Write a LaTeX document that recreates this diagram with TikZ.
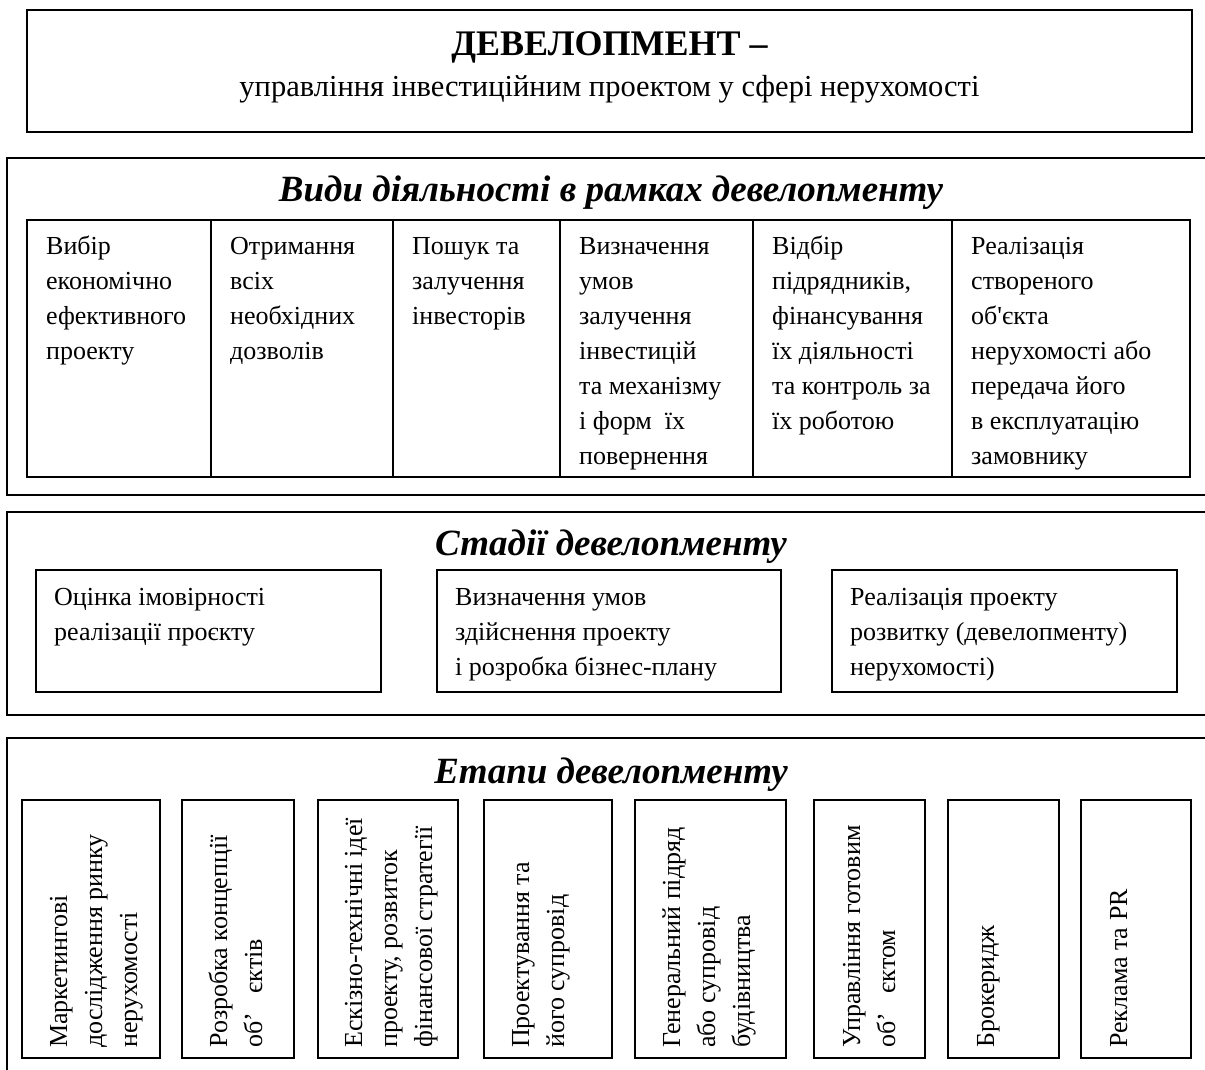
\documentclass[tikz,border=0pt]{standalone}
\usepackage{fontspec}
\setmainfont{Liberation Serif}
\newcommand\mystrut{\rule{0pt}{22pt}}
\begin{document}
\begin{tikzpicture}[x=1pt,y=-1pt,
  frame/.style={draw=black, line width=1.7pt, inner sep=0pt, outer sep=0pt, anchor=north west},
  body/.style={font=\fontsize{26}{35}\selectfont, align=left, inner sep=0pt, anchor=north west},
  vbody/.style={font=\fontsize{26}{35}\selectfont, align=left, inner sep=0pt, anchor=north west, rotate=90},
  sectitle/.style={font=\fontsize{37}{42}\selectfont\bfseries\itshape, inner sep=0pt, anchor=base},
]
\useasboundingbox (0,0) rectangle (1205,1070);
\clip (0,0) rectangle (1205,1070);

% top box
\node[frame, minimum width=1165pt, minimum height=122pt] (top) at (27,10) {};
\node[font=\fontsize{36}{40}\selectfont\bfseries, inner sep=0pt, anchor=base] (t1) at (609.5,56) {ДЕВЕЛОПМЕНТ –};
\node[font=\fontsize{30.5}{34}\selectfont, inner sep=0pt, anchor=base] (t2) at (609.5,97) {управління інвестиційним проектом у сфері нерухомості};

% section 2
\node[frame, minimum width=1300pt, minimum height=337pt] (s2) at (7,158) {};
\node[sectitle] (s2t) at (611,201) {Види діяльності в рамках девелопменту};
\node[frame, minimum width=184pt, minimum height=257pt] (c1) at (27,220) {};
\node[frame, minimum width=182pt, minimum height=257pt] (c2) at (211,220) {};
\node[frame, minimum width=167pt, minimum height=257pt] (c3) at (393,220) {};
\node[frame, minimum width=193pt, minimum height=257pt] (c4) at (560,220) {};
\node[frame, minimum width=199pt, minimum height=257pt] (c5) at (753,220) {};
\node[frame, minimum width=238pt, minimum height=257pt] (c6) at (952,220) {};
\node[body] (c1t) at (46,232) {\mystrut Вибір\\економічно\\ефективного\\проекту};
\node[body] (c2t) at (230,232) {\mystrut Отримання\\всіх\\необхідних\\дозволів};
\node[body] (c3t) at (412,232) {\mystrut Пошук та\\залучення\\інвесторів};
\node[body] (c4t) at (579,232) {\mystrut Визначення\\умов\\залучення\\інвестицій\\та механізму\\і форм~~їх\\повернення};
\node[body] (c5t) at (772,232) {\mystrut Відбір\\підрядників,\\фінансування\\їх діяльності\\та контроль за\\їх роботою};
\node[body] (c6t) at (971,232) {\mystrut Реалізація\\створеного\\об\textquotesingle єкта\\нерухомості або\\передача його\\в експлуатацію\\замовнику};

% section 3
\node[frame, minimum width=1300pt, minimum height=203pt] (s3) at (7,512) {};
\node[sectitle] (s3t) at (611,555) {Стадії девелопменту};
\node[frame, minimum width=345pt, minimum height=122pt] (b1) at (36,570) {};
\node[frame, minimum width=344pt, minimum height=122pt] (b2) at (437,570) {};
\node[frame, minimum width=345pt, minimum height=122pt] (b3) at (832,570) {};
\node[body] (b1t) at (54,583) {\mystrut Оцінка імовірності\\реалізації проєкту};
\node[body] (b2t) at (455,583) {\mystrut Визначення умов\\здійснення проекту\\і розробка бізнес-плану};
\node[body] (b3t) at (850,583) {\mystrut Реалізація проекту\\розвитку (девелопменту)\\нерухомості)};

% section 4
\node[frame, minimum width=1300pt, minimum height=400pt] (s4) at (7,738) {};
\node[sectitle] (s4t) at (611,783) {Етапи девелопменту};
\node[frame, minimum width=138pt, minimum height=258pt] (v1) at (22,800) {};
\node[frame, minimum width=112pt, minimum height=258pt] (v2) at (182,800) {};
\node[frame, minimum width=140pt, minimum height=258pt] (v3) at (318,800) {};
\node[frame, minimum width=128pt, minimum height=258pt] (v4) at (484,800) {};
\node[frame, minimum width=151pt, minimum height=258pt] (v5) at (635,800) {};
\node[frame, minimum width=111pt, minimum height=258pt] (v6) at (814,800) {};
\node[frame, minimum width=111pt, minimum height=258pt] (v7) at (948,800) {};
\node[frame, minimum width=110pt, minimum height=258pt] (v8) at (1081,800) {};
\node[vbody] (v1t) at (45,1048) {\mystrut Маркетингові\\дослідження ринку\\нерухомості};
\node[vbody] (v2t) at (205,1048) {\mystrut Розробка концепції\\об’~~~єктів};
\node[vbody] (v3t) at (340,1048) {\mystrut Ескізно-технічні ідеї\\проекту, розвиток\\фінансової стратегії};
\node[vbody] (v4t) at (507,1048) {\mystrut Проектування та\\його супровід};
\node[vbody] (v5t) at (658,1048) {\mystrut Генеральний підряд\\або супровід\\будівництва};
\node[vbody] (v6t) at (838,1048) {\mystrut Управління готовим\\об’~~~єктом};
\node[vbody] (v7t) at (972,1048) {\mystrut Брокеридж};
\node[vbody] (v8t) at (1105,1048) {\mystrut Реклама та PR};
\end{tikzpicture}
\end{document}
